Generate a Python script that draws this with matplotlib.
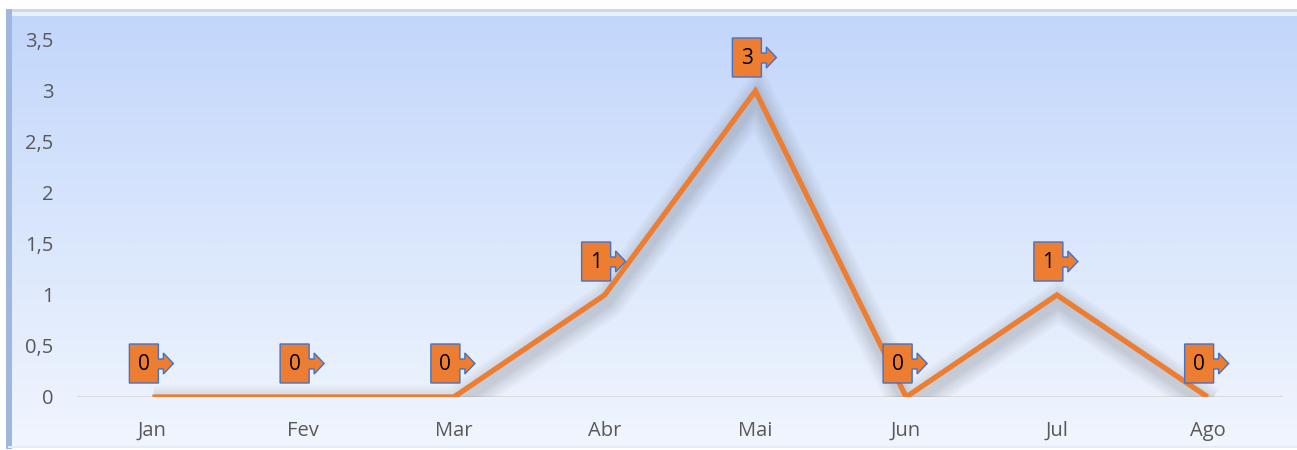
import numpy as np
import matplotlib
matplotlib.use("Agg")
import matplotlib.pyplot as plt
import matplotlib.patheffects as pe
import matplotlib.transforms as mtransforms
from matplotlib.patches import Polygon, Rectangle

months = ["Jan", "Fev", "Mar", "Abr", "Mai", "Jun", "Jul", "Ago"]
values = [0, 0, 0, 1, 3, 0, 1, 0]
y_ticks = [0, 0.5, 1, 1.5, 2, 2.5, 3, 3.5]

ORANGE = "#ED7D31"
BLUE_EDGE = "#4472C4"
TEXT_GREY = "#595959"

plt.rcParams["font.family"] = ["Open Sans", "DejaVu Sans"]

W, H = 1297, 450
fig = plt.figure(figsize=(W / 100, H / 100), dpi=100)
fig.patch.set_facecolor("white")

# background panel: vertical blue-to-white gradient with a bevelled frame
bg = fig.add_axes([0, 0, 1, 1])
bg.set_xlim(0, W)
bg.set_ylim(H, 0)
bg.axis("off")
top = np.array([194, 214, 251]) / 255
bottom = np.array([241, 246, 254]) / 255
t = np.linspace(0, 1, 256)[:, None]
grad = (top[None, :] * (1 - t) + bottom[None, :] * t)[:, None, :]
bg.imshow(grad, extent=(8, W, 448, 14), aspect="auto", interpolation="bilinear")
bg.add_patch(Rectangle((6, 9), W, 3, facecolor="#d2d6de", edgecolor="none"))
bg.add_patch(Rectangle((8, 12), W, 4, facecolor="#e2f3ff", edgecolor="none"))
bg.add_patch(Rectangle((6, 9), 6, 440, facecolor="#9fb6de", edgecolor="none"))
bg.add_patch(Rectangle((8, 446), W, 2, facecolor="#e4ecf6", edgecolor="none"))

ax = fig.add_axes([77 / W, (H - 397) / H, 1206 / W, 357 / H])
ax.patch.set_alpha(0)
x = np.arange(len(months))

# soft drop shadow under the line
shadow = [pe.SimpleLineShadow(offset=(1, -5), shadow_color="#404040",
                              alpha=0.035, linewidth=lw)
          for lw in (26, 22, 18, 14, 11, 8)]
ax.plot(x, values, color=ORANGE, lw=3.8, solid_joinstyle="miter",
        solid_capstyle="butt", zorder=3,
        path_effects=shadow + [pe.Normal()])

ax.axhline(0, color="#d9d9d9", lw=1.3, zorder=2)

ax.set_xlim(-0.5, len(months) - 0.5)
ax.set_ylim(0, 3.5)
ax.set_xticks(x)
ax.set_xticklabels(months)
ax.set_yticks(y_ticks)
ax.set_yticklabels([f"{v:g}".replace(".", ",") for v in y_ticks])
ax.tick_params(axis="both", length=0, labelsize=14.5, labelcolor=TEXT_GREY)
ax.tick_params(axis="y", pad=17)
ax.tick_params(axis="x", pad=17)
for s in ax.spines.values():
    s.set_visible(False)

# callout boxes (pixel offsets from each data point, y up)
callout = [(-23, 14), (6, 14), (6, 28), (11, 28), (11, 23), (21, 33.5),
           (11, 44), (11, 38), (6, 38), (6, 53), (-23, 53)]
txt_tr = mtransforms.ScaledTranslation(-8.5 / 100, 33 / 100, fig.dpi_scale_trans)
for xi, v in zip(x, values):
    tr = mtransforms.Affine2D() + mtransforms.ScaledTranslation(xi, v, ax.transData)
    ax.add_patch(Polygon(callout, closed=True, facecolor=ORANGE,
                         edgecolor=BLUE_EDGE, lw=1.0, transform=tr,
                         clip_on=False, zorder=5))
    ax.text(xi, v, str(v), transform=ax.transData + txt_tr, ha="center",
            va="center", fontsize=15, color="black", zorder=6)

fig.savefig("out.png", dpi=100)
